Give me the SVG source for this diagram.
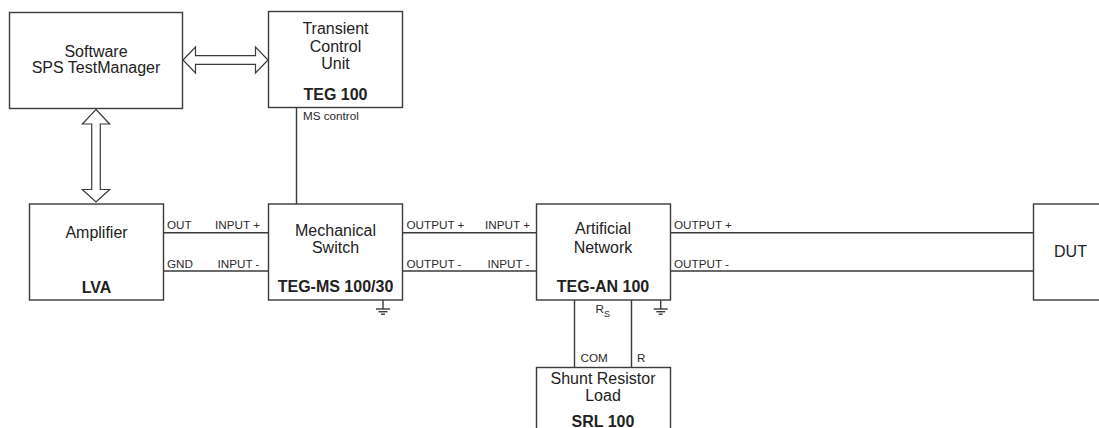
<svg xmlns="http://www.w3.org/2000/svg" width="1099" height="428" viewBox="0 0 1099 428">
<style>
.box{fill:#fff;stroke:#3a3a3a;stroke-width:1.4}
.ln{fill:none;stroke:#3a3a3a;stroke-width:1.4}
.arr{fill:#fff;stroke:#3a3a3a;stroke-width:1.2;stroke-linejoin:miter}
.t{font-family:"Liberation Sans",Arial,sans-serif;font-size:16px;fill:#222;text-anchor:middle}
.b{font-weight:bold}
.s{font-family:"Liberation Sans",Arial,sans-serif;font-size:11.7px;fill:#2a2a2a}
.e{text-anchor:end}
</style>
<defs>
<g id="gnd"><line x1="0" y1="0" x2="0" y2="9" class="ln"/><line x1="-7" y1="9" x2="7" y2="9" class="ln"/><line x1="-4.5" y1="11.7" x2="4.5" y2="11.7" class="ln"/><line x1="-2" y1="14.2" x2="2" y2="14.2" class="ln"/></g>
</defs>
<rect width="1099" height="428" fill="#fff"/>
<g id="connectors">
<polygon class="arr" points="183,60 195.5,47 195.5,55.7 255.5,55.7 255.5,47 268,60 255.5,73 255.5,64.3 195.5,64.3 195.5,73"/>
<polygon class="arr" points="96,109.5 109.7,124 100.3,124 100.3,189.5 109.7,189.5 96,202 82.3,189.5 91.7,189.5 91.7,124 82.3,124"/>
<line class="ln" x1="296.5" y1="107.5" x2="296.5" y2="204"/>
<line class="ln" x1="163.5" y1="232.7" x2="268.5" y2="232.7"/>
<line class="ln" x1="163.5" y1="271" x2="268.5" y2="271"/>
<line class="ln" x1="402.5" y1="232.7" x2="536.5" y2="232.7"/>
<line class="ln" x1="402.5" y1="271" x2="536.5" y2="271"/>
<line class="ln" x1="670.5" y1="232.7" x2="1033.5" y2="232.7"/>
<polyline class="ln" points="1033.5,271 660.7,271 660.7,300"/>
<use href="#gnd" x="660.7" y="300"/>
<use href="#gnd" x="383" y="300"/>
<line class="ln" x1="574.5" y1="300" x2="574.5" y2="367.5"/>
<line class="ln" x1="631.5" y1="300" x2="631.5" y2="367.5"/>
<text class="s" x="303" y="120">MS control</text>
<text class="s" x="167" y="229">OUT</text>
<text class="s e" x="260" y="229">INPUT +</text>
<text class="s" x="167" y="267.5">GND</text>
<text class="s e" x="259.5" y="267.5">INPUT -</text>
<text class="s" x="406.5" y="229">OUTPUT +</text>
<text class="s e" x="530" y="229">INPUT +</text>
<text class="s" x="406.5" y="267.5">OUTPUT -</text>
<text class="s e" x="529.5" y="267.5">INPUT -</text>
<text class="s" x="674" y="229">OUTPUT +</text>
<text class="s" x="674" y="267.5">OUTPUT -</text>
<text class="s" x="595.5" y="313">R<tspan font-size="9" dy="3.5">S</tspan></text>
<text class="s" x="580.5" y="361.5">COM</text>
<text class="s" x="637" y="361.5">R</text>
</g>
<g id="software">
<rect class="box" x="9.5" y="12.5" width="173" height="96"/>
<text class="t" x="96" y="57">Software</text>
<text class="t" x="96" y="73">SPS TestManager</text>
</g>
<g id="tcu">
<rect class="box" x="268.5" y="11.5" width="134" height="96"/>
<text class="t" x="335.5" y="33.5">Transient</text>
<text class="t" x="335.5" y="51.5">Control</text>
<text class="t" x="335.5" y="69.3">Unit</text>
<text class="t b" x="335.5" y="100">TEG 100</text>
</g>
<g id="amplifier">
<rect class="box" x="29.5" y="204" width="134" height="96"/>
<text class="t" x="96.5" y="238.3">Amplifier</text>
<text class="t b" x="96.5" y="293.3">LVA</text>
</g>
<g id="switch">
<rect class="box" x="268.5" y="204" width="134" height="96"/>
<text class="t" x="335.5" y="235.7">Mechanical</text>
<text class="t" x="335.5" y="252.5">Switch</text>
<text class="t b" x="335.5" y="292.3">TEG-MS 100/30</text>
</g>
<g id="network">
<rect class="box" x="536.5" y="204" width="134" height="96"/>
<text class="t" x="603" y="233.5">Artificial</text>
<text class="t" x="603" y="252.7">Network</text>
<text class="t b" x="603" y="291.7">TEG-AN 100</text>
</g>
<g id="dut">
<rect class="box" x="1033.5" y="204" width="134" height="96"/>
<text class="t" x="1070.5" y="256.7" font-size="18">DUT</text>
</g>
<g id="srl">
<rect class="box" x="536.5" y="367.5" width="134" height="96"/>
<text class="t" x="603" y="384">Shunt Resistor</text>
<text class="t" x="603" y="400.7">Load</text>
<text class="t b" x="603" y="426.7">SRL 100</text>
</g>
</svg>
